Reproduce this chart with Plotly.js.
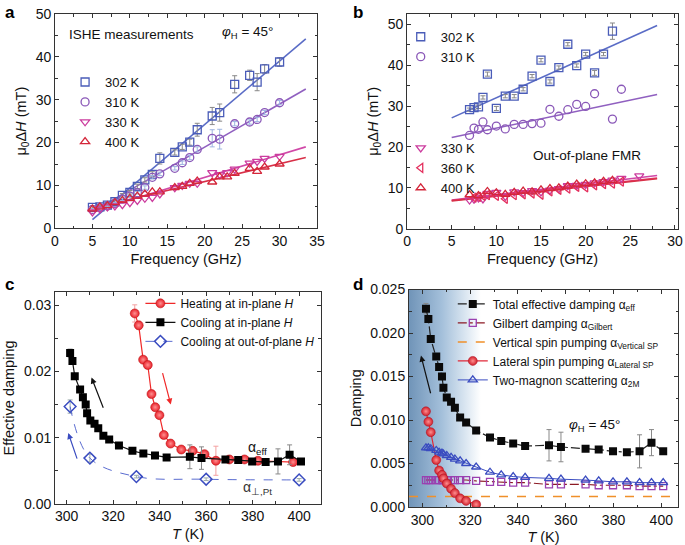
<!DOCTYPE html>
<html>
<head>
<meta charset="utf-8">
<script src="https://cdn.plot.ly/plotly-3.0.1.min.js"></script>
<style>html,body{margin:0;padding:0;background:#fff;}#chart{width:685px;height:545px;}</style>
</head>
<body>
<div id="chart"></div>
<script>
// ---------- Panel a: ISHE measurements ----------
const freqA = [5,6,7,8,9,10,11,12,13,14,16,17,18,19,21,22,24,26,27,28,30];
const a302 = [4.9,5.0,5.4,6.2,7.7,8.4,9.8,11.3,12.6,16.3,17.7,19.0,20.1,23.0,26.2,27.0,33.6,35.7,34.1,37.2,38.8];
const a302err = [0.3,0.3,0.3,0.3,0.4,0.4,0.5,0.5,0.6,1.3,0.6,0.6,0.7,1.5,2.0,2.0,2.0,1.2,2.0,1.0,1.0];
const a310 = [4.4,4.8,5.2,5.8,6.8,7.5,8.3,9.5,11.9,12.7,14.0,15.3,16.5,18.4,21.0,20.8,24.4,24.8,25.4,27.0,29.3];
const a310err = [0.2,0.2,0.2,0.2,0.3,0.3,0.3,0.4,0.4,0.4,0.4,0.4,0.5,0.6,2.0,2.3,0.5,0.5,0.5,0.5,0.5];
const freqA2 = [5,6,7,8,9,10,11,12,13,14,16,17,18,19,21,22,23,24,26,27,28,30];
const a330 = [3.8,4.5,5.0,5.2,5.5,6.0,6.5,7.0,7.2,8.0,9.5,10.0,10.5,10.5,13.0,12.5,13.0,13.8,15.2,15.6,16.3,16.8];
const a400 = [4.5,5.0,5.3,6.0,6.5,7.0,7.5,8.0,8.5,8.5,9.5,9.8,10.5,11.0,10.8,12.0,12.0,12.8,14.0,13.3,14.3,15.0];
const fitXA = [5, 33.5];
const fitA302 = [2.0, 44.2];
const fitA310 = [3.9, 32.5];
const fitA330 = [4.0, 19.0];
const fitA400 = [4.7, 16.5];

// ---------- Panel b: Out-of-plane FMR ----------
const freqB302 = [7,7.5,8,8.5,9,10,11,12,13,14,15,16,17,18,19,20,21,22,23];
const b302 = [29.1,29.6,29.8,32.1,37.8,29.4,32.4,32.4,34.1,37.3,41.2,36.0,39.4,45.1,39.9,42.7,38.1,42.7,48.3];
const b302err = [0.4,0.4,0.4,0.4,0.5,0.5,0.4,0.4,0.4,0.4,0.4,0.4,0.4,0.4,0.4,0.4,0.6,0.4,2.0];
const freqB310 = [7,7.5,8,8.5,9,10,11,12,13,14,15,16,17,18,19,20,21,23,24];
const b310 = [22.8,24.6,24.3,26.1,24.2,25.1,24.4,25.5,25.5,25.7,25.8,29.2,27.5,29.1,30.4,29.9,33.0,26.8,34.1];
const freqB330 = [7,7.5,8,8.5,9,10,11,12,13,14,15,16,17,18,19,20,21,22,23,24,26];
const b330 = [7.0,7.2,7.5,7.3,8.6,8.9,7.9,9.0,8.8,9.3,9.0,9.4,9.8,10.5,10.6,10.8,11.2,11.5,11.9,12.3,12.9];
const freqB360 = [7.5,8,8.5,9,10,11,12,13,14,15,16,17,18,19,20,21,22,23,24];
const b360 = [7.6,7.8,8.0,8.2,8.0,7.3,8.2,8.4,8.6,8.3,9.1,9.5,9.8,10.2,10.1,10.6,10.9,11.0,11.5];
const freqB400 = [7,8,9,10,11,12,13,14,15,16,17,18,19,20,21,22,23];
const b400 = [8.3,8.1,9.1,8.8,8.4,8.9,9.2,9.0,9.5,9.8,10.0,10.4,10.9,11.0,11.2,11.6,11.8];
const fitXB = [5, 28];
const fitB302 = [27.1, 49.7];
const fitB310 = [22.3, 32.8];
const fitB330 = [7.0, 13.0];
const fitB360 = [6.9, 12.4];
const fitB400 = [6.8, 12.2];

// ---------- Panel c / d: damping vs temperature ----------
const tCool = [301.5,302.5,303.5,305.8,307,308.2,308.8,310.2,312,313.6,315.8,318.3,322.5,328.3,333,338,343,353,358,368.3,373.8,379.8,385.6,390.9,395.9,400.8];
const dCool = [0.0228,0.0216,0.0193,0.0173,0.0161,0.0150,0.0137,0.0126,0.0121,0.0114,0.0103,0.0097,0.0088,0.0080,0.0076,0.0073,0.0070,0.0071,0.0069,0.0067,0.0066,0.0064,0.0063,0.0064,0.0074,0.0064];
const dCoolErr = [0.0006,0.0003,0.0003,0.0003,0.0003,0.0002,0.0002,0.0002,0.0002,0.0002,0.0002,0.0002,0.0002,0.0002,0.0002,0.0002,0.0002,0.0018,0.0017,0.0002,0.0002,0.0002,0.0002,0.0019,0.0015,0.0002];
const tHeat = [329.3,331,332.9,334.9,336.5,338.1,339.9,341.8,344.7,349.3,354.2,359.3,364.2,370,376.5,382.3,397.4];
const dHeat = [0.0288,0.0270,0.0218,0.0210,0.0166,0.0146,0.0134,0.0104,0.0091,0.0082,0.0080,0.0075,0.0065,0.0067,0.0067,0.0065,0.0063];
const dHeatErr = [0.0013,0.0006,0.0005,0.0005,0.0005,0.0005,0.0004,0.0003,0.0003,0.0003,0.0003,0.0003,0.0022,0.0003,0.0002,0.0002,0.0002];
const tOop = [301.5,310,330,360,400];
const dOop = [0.0147,0.0069,0.0041,0.0037,0.0036];
const dOopErr = [0.0010,0.0006,0.0002,0.0002,0.0002];
const dGilbert = [0.0031,0.0031,0.0031,0.0031,0.0031,0.0031,0.0031,0.0031,0.0031,0.0031,0.0031,0.0031,0.0030,0.0029,0.0029,0.0028,0.0028,0.0026,0.0026,0.0026,0.0025,0.0025,0.0025,0.0024,0.0024,0.0024];
const d2M = [0.0068,0.0068,0.0067,0.0065,0.0063,0.0062,0.0061,0.0059,0.0057,0.0055,0.0053,0.0050,0.0046,0.0040,0.0037,0.0035,0.0034,0.0033,0.0032,0.0031,0.0030,0.0029,0.0029,0.0028,0.0028,0.0028];
const tLateral = [301.5,302.5,303.5,305.8,307,308.2,308.8,310.2,312,313.6,315.8,318.3,322.5];
const dLateral = [0.0110,0.0098,0.0086,0.0054,0.0042,0.0037,0.0033,0.0027,0.0021,0.0016,0.0010,0.0007,0.0003];
const tVertical = [294.4, 404];
const dVertical = [0.0012, 0.0012];
const shadeT = [294.4, 324.5];
const shadeD = [0, 0.025];

const FONT = 'Liberation Sans, Arial, Helvetica, sans-serif';
const C302='#4a5cb8', C310='#8a58b8', C330='#cc3c9e', C360='#e4305e', C400='#d4263a';
const TICK = 14, TITLE = 14.5;

function pts(x,y,sym,color,name,xa,ya,leg,err,errColor,size){
  const t = {x:x,y:y,type:'scatter',mode:'markers',name:name,xaxis:xa,yaxis:ya,legend:leg,
    marker:{symbol:sym,size:size||8,color:color,line:{color:color,width:1.3}},hoverinfo:'skip'};
  if(err){t.error_y={type:'data',array:err,visible:true,color:errColor||'#8a8a8a',thickness:1,width:2.5};}
  return t;
}
function fit(x,y,color,xa,ya){
  return {x:x,y:y,type:'scatter',mode:'lines',showlegend:false,xaxis:xa,yaxis:ya,
    line:{color:color,width:1.6},hoverinfo:'skip'};
}

const traces = [];
// panel a
traces.push(fit(fitXA,fitA302,'#5a6cc6','x','y'));
traces.push(fit(fitXA,fitA310,'#9060c0','x','y'));
traces.push(fit(fitXA,fitA330,'#d048a8','x','y'));
traces.push(fit(fitXA,fitA400,'#d83048','x','y'));
traces.push(pts(freqA,a302,'square-open',C302,'302 K','x','y','legend',a302err,'#888'));
traces.push(pts(freqA,a310,'circle-open',C310,'310 K','x','y','legend',a310err,'#9db4e0'));
traces.push(pts(freqA2,a330,'triangle-down-open',C330,'330 K','x','y','legend'));
traces.push(pts(freqA2,a400,'triangle-up-open',C400,'400 K','x','y','legend'));
// panel b
traces.push(fit(fitXB,fitB302,'#5a6cc6','x2','y2'));
traces.push(fit(fitXB,fitB310,'#9060c0','x2','y2'));
traces.push(fit(fitXB,fitB330,'#d048a8','x2','y2'));
traces.push(fit(fitXB,fitB360,'#e43868','x2','y2'));
traces.push(fit(fitXB,fitB400,'#d83048','x2','y2'));
traces.push(pts(freqB302,b302,'square-open',C302,'302 K','x2','y2','legend2',b302err,'#888'));
traces.push(pts(freqB310,b310,'circle-open',C310,'310 K','x2','y2','legend2'));
traces.push(pts(freqB330,b330,'triangle-down-open',C330,'330 K','x2','y2','legend3'));
traces.push(pts(freqB360,b360,'triangle-left-open',C360,'360 K','x2','y2','legend3'));
traces.push(pts(freqB400,b400,'triangle-up-open',C400,'400 K','x2','y2','legend3'));
// panel c
traces.push({x:tHeat,y:dHeat,type:'scatter',mode:'lines+markers',name:'Heating at in-plane <i>H</i>',xaxis:'x3',yaxis:'y3',legend:'legend4',
  line:{color:'#f02828',width:1.2},marker:{symbol:'circle',size:9,color:'#e8202a',gradient:{type:'radial',color:'#ff9090'},line:{color:'#c01818',width:0.6}},
  error_y:{type:'data',array:dHeatErr,color:'#f4a0a0',thickness:1,width:2.5},hoverinfo:'skip'});
traces.push({x:tCool,y:dCool,type:'scatter',mode:'lines+markers',name:'Cooling at in-plane <i>H</i>',xaxis:'x3',yaxis:'y3',legend:'legend4',
  line:{color:'#111',width:1.2},marker:{symbol:'square',size:8,color:'#000'},
  error_y:{type:'data',array:dCoolErr,color:'#888',thickness:1,width:2.5},hoverinfo:'skip'});
traces.push({x:tOop,y:dOop,type:'scatter',mode:'lines+markers',name:'Cooling at out-of-plane <i>H</i>',xaxis:'x3',yaxis:'y3',legend:'legend4',
  line:{color:'#5a6cd0',width:1,dash:'dash',shape:'spline',smoothing:1},marker:{symbol:'diamond-open',size:9,color:'#3a4cc0',line:{color:'#3a4cc0',width:1.5}},
  error_y:{type:'data',array:dOopErr,color:'#9aa',thickness:1,width:2.5},hoverinfo:'skip'});
// panel d
traces.push({x:[shadeT[0],shadeT[1],shadeT[1],shadeT[0]],y:[shadeD[0],shadeD[0],shadeD[1],shadeD[1]],type:'scatter',mode:'lines',
  fill:'toself',line:{width:0,color:'rgba(0,0,0,0)'},showlegend:false,xaxis:'x4',yaxis:'y4',hoverinfo:'skip',
  fillgradient:{type:'horizontal',colorscale:[[0,'#7094b8'],[0.45,'#a3bfda'],[0.8,'#dde8f2'],[1,'#ffffff']]}});
traces.push({x:tCool,y:dCool,type:'scatter',mode:'lines+markers',name:'Total effective damping α<sub>eff</sub>',xaxis:'x4',yaxis:'y4',legend:'legend5',
  line:{color:'#222',width:1.2,dash:'dashdot'},marker:{symbol:'square',size:8,color:'#0a0a0a'},
  error_y:{type:'data',array:dCoolErr,color:'#888',thickness:1,width:2.5},hoverinfo:'skip'});
traces.push({x:tCool,y:dGilbert,type:'scatter',mode:'lines+markers',name:'Gilbert damping α<sub>Gilbert</sub>',xaxis:'x4',yaxis:'y4',legend:'legend5',
  line:{color:'#8c1a24',width:1.1,dash:'dashdot'},marker:{symbol:'square-open',size:7,color:'#9a40b0',line:{color:'#9a40b0',width:1.3}},hoverinfo:'skip'});
traces.push({x:tVertical,y:dVertical,type:'scatter',mode:'lines',name:'Vertical spin pumping α<sub>Vertical SP</sub>',xaxis:'x4',yaxis:'y4',legend:'legend5',
  line:{color:'#f0902a',width:1.5,dash:'dash'},hoverinfo:'skip'});
traces.push({x:tLateral,y:dLateral,type:'scatter',mode:'lines+markers',name:'Lateral spin pumping α<sub>Lateral SP</sub>',xaxis:'x4',yaxis:'y4',legend:'legend5',
  line:{color:'#e02838',width:1.2},marker:{symbol:'circle',size:9,color:'#d0202c',gradient:{type:'radial',color:'#ff8e8e'},line:{color:'#b01020',width:0.5}},hoverinfo:'skip'});
traces.push({x:tCool,y:d2M,type:'scatter',mode:'lines+markers',name:'Two-magnon scattering α<sub>2M</sub>',xaxis:'x4',yaxis:'y4',legend:'legend5',
  line:{color:'#3a4cc0',width:1},marker:{symbol:'triangle-up-open',size:8,color:'#3a4cc0',line:{color:'#3a4cc0',width:1.3}},hoverinfo:'skip'});

function ttl(text){ return {text:text,standoff:5,font:{size:TITLE,family:FONT,color:'#111'}}; }
function minor(d){ return {dtick:d,ticks:'inside',ticklen:2.5,tickcolor:'#333'}; }
function ax(o){
  return Object.assign({showline:true,linecolor:'#333',linewidth:1,mirror:'ticks',ticks:'inside',ticklen:4,tickcolor:'#333',
    showgrid:false,zeroline:false,tickfont:{size:TICK,color:'#111',family:FONT}},o);
}
function leg(x,y,size){
  return {x:x,y:y,xanchor:'left',yanchor:'top',bgcolor:'rgba(0,0,0,0)',font:{size:size,family:FONT,color:'#111'},
    tracegroupgap:0,itemclick:false,itemdoubleclick:false};
}

const layout = {
  width:685,height:545,margin:{l:0,r:0,t:0,b:0},paper_bgcolor:'#fff',plot_bgcolor:'rgba(0,0,0,0)',
  font:{family:FONT,color:'#111'},
  xaxis: ax({domain:[0.0803,0.4628],anchor:'y',range:[0,35],dtick:5,minor:minor(2.5),title:ttl('Frequency (GHz)')}),
  yaxis: ax({domain:[0.5811,0.9743],anchor:'x',range:[0,50],dtick:10,minor:minor(5),title:ttl('μ<sub>0</sub>Δ<i>H</i> (mT)')}),
  xaxis2: ax({domain:[0.5942,0.9898],anchor:'y2',range:[0,30.34],dtick:5,minor:minor(2.5),title:ttl('Frequency (GHz)')}),
  yaxis2: ax({domain:[0.5804,0.9743],anchor:'x2',range:[0,52.5],dtick:10,minor:minor(5),title:ttl('μ<sub>0</sub>Δ<i>H</i> (mT)')}),
  xaxis3: ax({domain:[0.0803,0.4686],anchor:'y3',range:[295,409.4],tick0:300,dtick:20,minor:minor(10),title:ttl('<i>T</i> (K)')}),
  yaxis3: ax({domain:[0.0758,0.4637],anchor:'x3',range:[0,0.032],dtick:0.01,tickformat:'.2f',minor:minor(0.005),title:ttl('Effective damping')}),
  xaxis4: ax({domain:[0.5971,0.9898],anchor:'y4',range:[294.4,407],tick0:300,dtick:20,minor:minor(10),title:ttl('<i>T</i> (K)')}),
  yaxis4: ax({domain:[0.0697,0.4688],anchor:'x4',range:[0,0.025],dtick:0.005,tickformat:'.3f',minor:minor(0.0025),title:ttl('Damping')}),
  legend: leg(0.095,0.877,13),
  legend2: leg(0.585,0.960,13),
  legend3: leg(0.585,0.756,13),
  legend4: leg(0.205,0.470,12),
  legend5: leg(0.661,0.469,12),
  annotations: [
    {text:'<b>a</b>',x:0.004,y:0.999,xref:'paper',yref:'paper',xanchor:'left',yanchor:'top',showarrow:false,font:{size:17,family:FONT,color:'#000'}},
    {text:'<b>b</b>',x:0.512,y:0.999,xref:'paper',yref:'paper',xanchor:'left',yanchor:'top',showarrow:false,font:{size:17,family:FONT,color:'#000'}},
    {text:'<b>c</b>',x:0.004,y:0.499,xref:'paper',yref:'paper',xanchor:'left',yanchor:'top',showarrow:false,font:{size:17,family:FONT,color:'#000'}},
    {text:'<b>d</b>',x:0.512,y:0.499,xref:'paper',yref:'paper',xanchor:'left',yanchor:'top',showarrow:false,font:{size:17,family:FONT,color:'#000'}},
    {text:'ISHE measurements',x:1.6,y:45.2,xref:'x',yref:'y',xanchor:'left',showarrow:false,font:{size:13.5,family:FONT,color:'#111'}},
    {text:'<i>φ</i><sub>H</sub> = 45°',x:22.0,y:45.6,xref:'x',yref:'y',xanchor:'left',showarrow:false,font:{size:13.5,family:FONT,color:'#111'}},
    {text:'Out-of-plane FMR',x:20.2,y:18.0,xref:'x2',yref:'y2',showarrow:false,font:{size:13.5,family:FONT,color:'#111'}},
    {text:'α<sub>eff</sub>',x:382,y:0.0085,xref:'x3',yref:'y3',showarrow:false,font:{size:14,family:FONT,color:'#111'}},
    {text:'α<sub>⊥,Pt</sub>',x:382,y:0.0023,xref:'x3',yref:'y3',showarrow:false,font:{size:14,family:FONT,color:'#333'}},
    {text:'<i>φ</i><sub>H</sub> = 45°',x:372,y:0.0094,xref:'x4',yref:'y4',showarrow:false,font:{size:13.5,family:FONT,color:'#111'}},
    {text:'',x:310.7,y:0.0191,ax:316,ay:0.0143,xref:'x3',yref:'y3',axref:'x3',ayref:'y3',showarrow:true,arrowhead:2,arrowsize:1,arrowwidth:1.2,arrowcolor:'#111'},
    {text:'',x:344.8,y:0.0150,ax:341.1,ay:0.0200,xref:'x3',yref:'y3',axref:'x3',ayref:'y3',showarrow:true,arrowhead:2,arrowsize:1,arrowwidth:1.2,arrowcolor:'#f02828'},
    {text:'',x:300.7,y:0.0107,ax:304.7,ay:0.0066,xref:'x3',yref:'y3',axref:'x3',ayref:'y3',showarrow:true,arrowhead:2,arrowsize:1,arrowwidth:1.2,arrowcolor:'#3a4cc0'},
    {text:'',x:299.4,y:0.0174,ax:303.6,ay:0.0129,xref:'x4',yref:'y4',axref:'x4',ayref:'y4',showarrow:true,arrowhead:2,arrowsize:1,arrowwidth:1.2,arrowcolor:'#111'}
  ]
};

Plotly.newPlot('chart', traces, layout, {staticPlot:true,displayModeBar:false});
</script>
</body>
</html>
